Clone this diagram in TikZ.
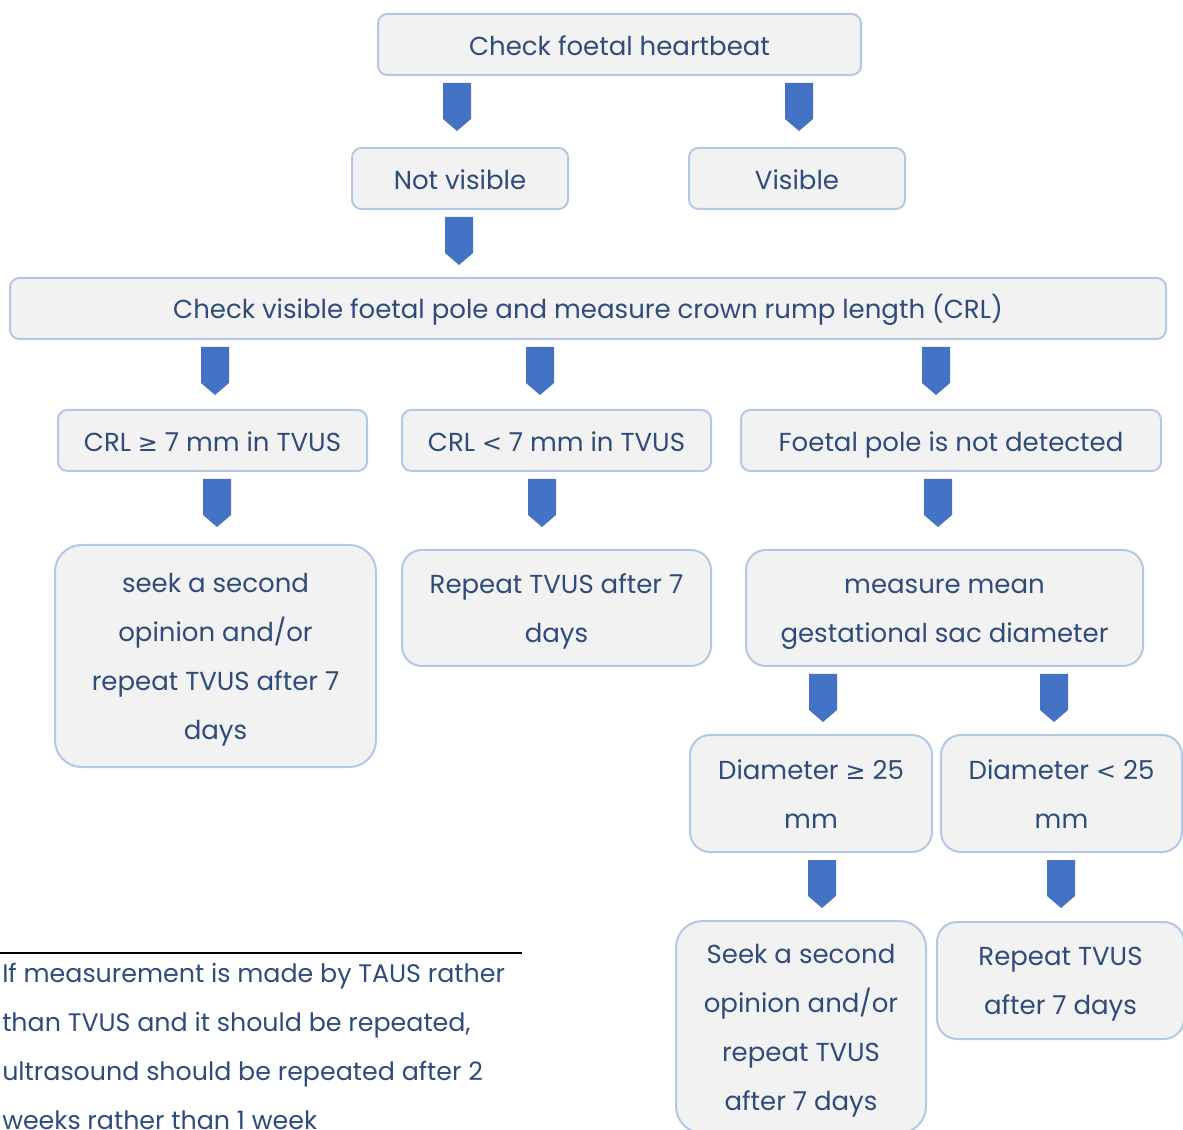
\documentclass[tikz,border=0pt]{standalone}
\usepackage{fontspec}
\setmainfont{Poppins}
\newfontfamily\symf[Scale=0.92]{DejaVu Sans}
\usetikzlibrary{calc}
\definecolor{boxfill}{HTML}{F2F2F2}
\definecolor{boxline}{HTML}{B4C7E7}
\definecolor{arrowblue}{HTML}{4472C4}
\definecolor{txt}{HTML}{2F4B7C}
% struts that keep the text lines at a fixed height and depth
\newcommand{\linestrut}{\rule[-5pt]{0pt}{26pt}}
\newcommand{\ts}{\rule{0pt}{20pt}}
\newcommand{\gesym}{{\symf ≥}}
\newcommand{\ltsym}{{\symf <}}
\begin{document}
\begin{tikzpicture}[x=0.75pt,y=-0.75pt,
  box/.style={draw=boxline, fill=boxfill, line width=1.5pt, rounded corners=7pt,
    text=txt, align=center, inner sep=0pt,
    font=\fontsize{19.5pt}{36.75pt}\selectfont,
    execute at begin node=\linestrut, execute at end node=\linestrut},
  tall/.style={rounded corners=15pt, execute at begin node={}, execute at end node={}},
  taller/.style={tall, rounded corners=20pt},
  sz/.style 2 args={minimum width=#1*0.75pt, minimum height=#2*0.75pt},
  blockarrow/.pic={\fill[arrowblue] (-14,7) -- (14,7) -- (14,43) -- (0,55) -- (-14,43) -- cycle;}]
\useasboundingbox (0,0) rectangle (1183,1130);
\clip (0,0) rectangle (1183,1130);

% boxes
\node[box, sz={483}{61}] (hb) at (619.5,44.5) {Check foetal heartbeat};
\node[box, sz={216}{61}] (nv) at (460,178.5) {Not visible};
\node[box, sz={216}{61}] (vis) at (797,178.5) {Visible};
\node[box, sz={1156}{61}] (crl) at (588,308.5) {Check visible foetal pole and measure crown rump length (CRL)};
\node[box, sz={309}{61}] (ge7) at (212.5,440.5) {CRL \gesym{} 7 mm in TVUS};
\node[box, sz={309}{61}] (lt7) at (556.5,440.5) {CRL \ltsym{} 7 mm in TVUS};
\node[box, sz={420}{61}] (nod) at (951,440.5) {Foetal pole is not detected};
\node[box, taller, sz={321}{222}] (seekA) at (215.5,656) {\ts seek a second\\opinion and/or\\repeat TVUS after 7\\days};
\node[box, tall, sz={309}{116}] (repA) at (556.5,608) {\ts Repeat TVUS after 7\\days};
\node[box, tall, sz={397}{116}] (msd) at (944.5,608) {\ts measure mean\\gestational sac diameter};
\node[box, tall, sz={242}{117}] (dge) at (811,793.5) {\ts Diameter \gesym{} 25\\mm};
\node[box, tall, sz={241}{117}] (dlt) at (1061.5,793.5) {\ts Diameter \ltsym{} 25\\mm};
\node[box, taller, sz={250}{212}] (seekB) at (801,1027) {\ts Seek a second\\opinion and/or\\repeat TVUS\\after 7 days};
\node[box, tall, sz={247}{117}] (repB) at (1060.5,980.5) {\ts Repeat TVUS\\after 7 days};

% block arrows below each parent box
\pic at (457,0 |- hb.south) {blockarrow};
\pic at (799,0 |- hb.south) {blockarrow};
\pic at (459,0 |- nv.south) {blockarrow};
\pic at (215,0 |- crl.south) {blockarrow};
\pic at (540,0 |- crl.south) {blockarrow};
\pic at (936,0 |- crl.south) {blockarrow};
\pic at (217,0 |- ge7.south) {blockarrow};
\pic at (542,0 |- lt7.south) {blockarrow};
\pic at (938,0 |- nod.south) {blockarrow};
\pic at (823,0 |- msd.south) {blockarrow};
\pic at (1054,0 |- msd.south) {blockarrow};
\pic at (822,0 |- dge.south) {blockarrow};
\pic at (1061,0 |- dlt.south) {blockarrow};

% footnote
\coordinate (ruleL) at (0,953);
\coordinate (ruleR) at (522,953);
\draw[line width=1pt, black] (ruleL) -- (ruleR);
\node[anchor=north west, inner sep=0pt, align=left, text=txt,
  font=\fontsize{19pt}{36.75pt}\selectfont] (note) at (2,963)
  {If measurement is made by TAUS rather\\than TVUS and it should be repeated,\\ultrasound should be repeated after 2\\weeks rather than 1 week};
\end{tikzpicture}
\end{document}
